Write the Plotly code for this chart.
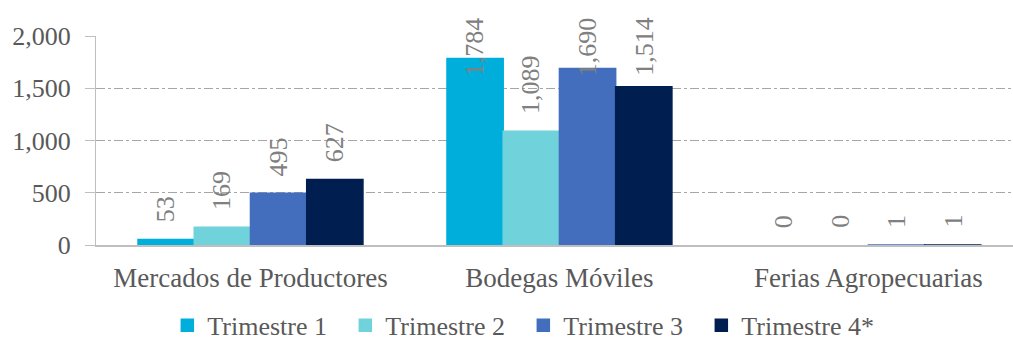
import plotly.graph_objects as go

categories = ["Mercados de Productores", "Bodegas Móviles", "Ferias Agropecuarias"]
series_names = ["Trimestre 1", "Trimestre 2", "Trimestre 3", "Trimestre 4*"]
trimestre_1 = [53, 1784, 0]
trimestre_2 = [169, 1089, 0]
trimestre_3 = [495, 1690, 1]
trimestre_4 = [627, 1514, 1]
colors = ["#00AEDB", "#70D3DB", "#426EBD", "#011E50"]
y_ticks = [0, 500, 1000, 1500, 2000]

series = [trimestre_1, trimestre_2, trimestre_3, trimestre_4]

FONT = "Times New Roman"
Y_MAX = 2000
PLOT_H = 209          # plot area height in px
BAR_PX = 56.5         # width of one bar in px
LABEL_GAP = 15        # px between bar top and its label
CHAR_PX = 12.5        # approx. rotated label length per character
TOP_PAD = 21          # px the clamped labels may rise above the plot area

fig = go.Figure()
for name, vals, col in zip(series_names, series, colors):
    fig.add_trace(go.Bar(
        name=name, x=categories, y=vals,
        # outline keeps tiny values visible; zero values stay empty
        marker=dict(color=col, line=dict(color=col, width=[1.5 if v else 0 for v in vals])),
    ))

# rotated value labels above each bar; long ones are pinned under the top edge
px_per_unit = PLOT_H / Y_MAX
annotations = []
for i, vals in enumerate(series):
    offset = (i - 1.5) * BAR_PX
    for cat, v in zip(categories, vals):
        text = f"{v:,}"
        length = len(text) * CHAR_PX
        top_px = v * px_per_unit + LABEL_GAP + length
        label = dict(
            x=cat, xref="x", xshift=offset,
            text=text, textangle=-90, showarrow=False, xanchor="center",
            font=dict(family=FONT, size=26, color="#808080"),
        )
        if top_px > PLOT_H + TOP_PAD:
            label.update(y=1 + TOP_PAD / PLOT_H, yref="paper", yanchor="top")
        else:
            label.update(y=v, yref="y", yanchor="bottom", yshift=LABEL_GAP)
        annotations.append(label)

fig.update_layout(
    width=1013, height=342,
    margin=dict(l=96, r=0, t=36, b=97, autoexpand=False),
    paper_bgcolor="white", plot_bgcolor="white",
    barmode="group", bargap=0.272, bargroupgap=0,
    font=dict(family=FONT, color="#595959"),
    annotations=annotations,
    showlegend=True,
    legend=dict(
        orientation="h", x=0.466, xanchor="center", y=-0.272, yanchor="top",
        font=dict(family=FONT, size=26, color="#595959"),
        entrywidth=133, entrywidthmode="pixels",
        traceorder="normal",
    ),
)
fig.update_xaxes(
    range=[-0.5, 2.468], automargin=False,
    showline=True, linecolor="#BFBFBF", linewidth=2,
    ticks="", showgrid=False,
    tickfont=dict(family=FONT, size=27, color="#595959"),
    ticklabelstandoff=8,
)
fig.update_yaxes(
    range=[0, Y_MAX], tickvals=y_ticks, tickformat=",", automargin=False,
    showline=True, linecolor="#BFBFBF", linewidth=1,
    ticks="outside", ticklen=10, tickcolor="#BFBFBF",
    showgrid=True, gridcolor="#A6A6A6", griddash="dashdot", gridwidth=1,
    zeroline=False, ticklabelstandoff=9,
    tickfont=dict(family=FONT, size=26, color="#595959"),
)

fig.write_html("out.html")
